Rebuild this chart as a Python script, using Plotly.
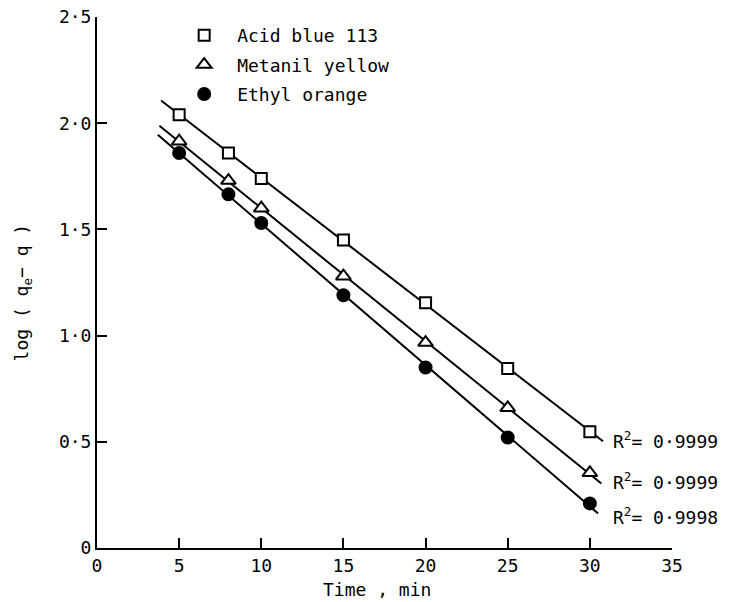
import numpy as np
import plotly.graph_objects as go

# ---- data ----
time_min = [5, 8, 10, 15, 20, 25, 30]
acid_blue_113 = [2.04, 1.86, 1.74, 1.45, 1.155, 0.845, 0.547]
metanil_yellow = [1.915, 1.73, 1.60, 1.28, 0.967, 0.66, 0.354]
ethyl_orange = [1.86, 1.665, 1.53, 1.19, 0.85, 0.52, 0.21]

series_names = ["Acid blue 113", "Metanil yellow", "Ethyl orange"]
r2_labels = ["R<sup>2</sup>= 0·9999", "R<sup>2</sup>= 0·9999", "R<sup>2</sup>= 0·9998"]
fit_start = [3.9, 3.8, 3.7]
fit_end = [30.8, 30.7, 30.5]

x_tickvals = [0, 5, 10, 15, 20, 25, 30, 35]
x_ticktext = ["0", "5", "10", "15", "20", "25", "30", "35"]
y_tickvals = [0, 0.5, 1.0, 1.5, 2.0, 2.5]
y_ticktext = ["0", "0·5", "1·0", "1·5", "2·0", "2·5"]
x_title = "Time , min"
y_title = "log ( q<sub>e</sub>− q )"

FONT = "DejaVu Sans Mono"
FS = 18
symbols = ["square", "triangle-up", "circle"]
sizes = [11, 13, 12]
fills = ["white", "white", "black"]
r2_yshift = [1, 3, -3]

fig = go.Figure()
all_y = [acid_blue_113, metanil_yellow, ethyl_orange]
for i, (name, yv) in enumerate(zip(series_names, all_y)):
    slope, icpt = np.polyfit(time_min, yv, 1)
    fx = [fit_start[i], fit_end[i]]
    fy = [slope * v + icpt for v in fx]
    fig.add_trace(go.Scatter(x=fx, y=fy, mode="lines",
                             line=dict(color="black", width=2),
                             showlegend=False, hoverinfo="skip"))
    fig.add_trace(go.Scatter(x=time_min, y=yv, mode="markers", name=name,
                             legendgroup=name,
                             marker=dict(symbol=symbols[i], size=sizes[i],
                                         color=fills[i],
                                         line=dict(color="black", width=2))))
    fig.add_annotation(x=31.3, y=fy[1], text=r2_labels[i], showarrow=False,
                       xanchor="left", yanchor="middle", xref="x", yref="y",
                       yshift=r2_yshift[i],
                       font=dict(family=FONT, size=FS, color="black"))

# axis titles
fig.add_annotation(x=0.487, y=-0.079, xref="paper", yref="paper",
                   text=x_title, showarrow=False, xanchor="center", yanchor="middle",
                   font=dict(family=FONT, size=FS, color="black"))
fig.add_annotation(x=-0.128, y=0.482, xref="paper", yref="paper",
                   text=y_title, showarrow=False, textangle=-90,
                   xanchor="center", yanchor="middle",
                   font=dict(family=FONT, size=FS, color="black"))

fig.update_layout(
    width=730, height=602,
    margin=dict(l=97, r=58, t=17, b=54, autoexpand=False),
    paper_bgcolor="white", plot_bgcolor="white",
    font=dict(family=FONT, size=FS, color="black"),
    showlegend=True,
    legend=dict(x=0.129, y=1.0, xanchor="left", yanchor="top",
                itemwidth=56,
                bgcolor="rgba(0,0,0,0)", tracegroupgap=3,
                font=dict(family=FONT, size=FS, color="black")),
    xaxis=dict(range=[0, 35], tickvals=x_tickvals, ticktext=x_ticktext,
               showline=True, linecolor="black", linewidth=2,
               ticks="inside", ticklen=10, tickwidth=2, tickcolor="black",
               showgrid=False, zeroline=False, automargin=False),
    yaxis=dict(range=[0, 2.5], tickvals=y_tickvals, ticktext=y_ticktext,
               showline=True, linecolor="black", linewidth=2,
               ticks="inside", ticklen=10, tickwidth=2, tickcolor="black",
               showgrid=False, zeroline=False, automargin=False),
)

fig.write_html("out.html")
